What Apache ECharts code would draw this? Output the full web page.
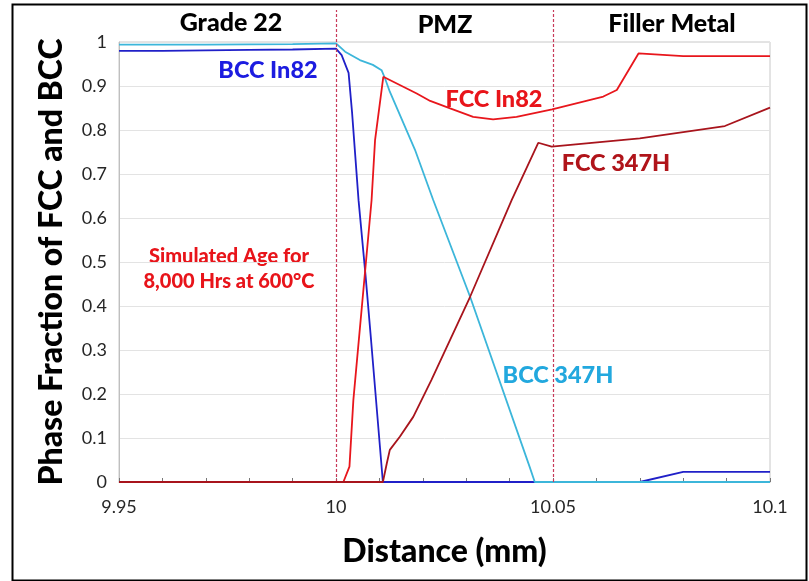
<!DOCTYPE html>
<html><head><meta charset="utf-8">
<script src="https://cdn.jsdelivr.net/npm/echarts@6/dist/echarts.min.js"></script>
<style>html,body{margin:0;padding:0;background:#fff}#c{width:809px;height:581px}</style>
</head><body><div id="c"></div>
<script>
// ---- data ----
const bccIn82X = [9.95, 9.96, 9.97, 9.98, 9.99, 10.0, 10.0013, 10.0029, 10.0037, 10.0052, 10.0068, 10.0081, 10.0108, 10.07, 10.08, 10.09, 10.1];
const bccIn82Y = [0.980, 0.980, 0.981, 0.982, 0.983, 0.985, 0.970, 0.930, 0.840, 0.640, 0.470, 0.320, 0, 0, 0.023, 0.023, 0.023];

const bcc347X = [9.95, 9.97, 9.99, 10.0, 10.0021, 10.0055, 10.0085, 10.0105, 10.0113, 10.0124, 10.0182, 10.0224, 10.0309, 10.0446, 10.0458, 10.1];
const bcc347Y = [0.994, 0.994, 0.995, 0.997, 0.978, 0.959, 0.948, 0.936, 0.917, 0.887, 0.755, 0.641, 0.421, 0.035, 0, 0];

const fccIn82X = [9.95, 10.0, 10.0017, 10.0031, 10.0040, 10.0082, 10.0090, 10.0109, 10.0186, 10.0217, 10.0263, 10.0316, 10.0362, 10.0416, 10.0498, 10.0616, 10.0647, 10.0697, 10.0800, 10.1];
const fccIn82Y = [0, 0, 0, 0.035, 0.186, 0.641, 0.777, 0.921, 0.883, 0.866, 0.849, 0.830, 0.824, 0.830, 0.847, 0.876, 0.891, 0.974, 0.968, 0.968];

const fcc347X = [9.95, 10.0108, 10.0117, 10.0124, 10.0147, 10.0178, 10.0220, 10.0309, 10.0405, 10.0466, 10.0497, 10.0700, 10.0896, 10.1];
const fcc347Y = [0, 0, 0.042, 0.073, 0.103, 0.148, 0.232, 0.421, 0.641, 0.771, 0.762, 0.781, 0.809, 0.851];

const boundaryX = [10.0, 10.05];
const xTicks = {min: 9.95, max: 10.1, step: 0.05};
const yTicks = {min: 0, max: 1, step: 0.1};

// ---- chart ----
const zip = (xs, ys) => xs.map((x, i) => [x, ys[i]]);
const FONT = 'Lato';
const chart = echarts.init(document.getElementById('c'), null, {renderer: 'canvas'});
function mkLine(name, xs, ys, color, z) {
  return {name, type: 'line', data: zip(xs, ys), showSymbol: false, symbol: 'none',
    lineStyle: {color, width: 1.8}, itemStyle: {color}, z, clip: false, animation: false};
}
const txt = (x, y, text, size, fill) => ({type: 'text', x, y,
  style: {text, font: '900 ' + size + 'px Lato', fill, align: 'center', verticalAlign: 'middle'}});
chart.setOption({
  animation: false,
  backgroundColor: '#fff',
  grid: [
    {left: 119, right: 39, top: 42, bottom: 99, show: true, borderColor: '#c8c8c8', borderWidth: 1},
    {left: 119, right: 39, top: 10, bottom: 99, show: false}
  ],
  xAxis: [
    {type: 'value', gridIndex: 0, min: xTicks.min, max: xTicks.max, interval: xTicks.step,
      axisLine: {show: true, lineStyle: {color: '#bfbfbf'}},
      axisTick: {show: true, inside: true, length: 4, lineStyle: {color: '#777'}},
      minorTick: {show: true, splitNumber: 5, length: 4, lineStyle: {color: '#777'}},
      splitLine: {show: false},
      axisLabel: {fontFamily: FONT, fontSize: 18, color: '#262626', margin: 16,
        formatter: v => String(+v.toFixed(2))},
      name: 'Distance (mm)', nameLocation: 'middle', nameGap: 54, nameMoveOverlap: false,
      nameTextStyle: {fontFamily: FONT, fontWeight: 900, fontSize: 32, color: '#000'}},
    {type: 'value', gridIndex: 1, min: xTicks.min, max: xTicks.max, show: false}
  ],
  yAxis: [
    {type: 'value', gridIndex: 0, min: yTicks.min, max: yTicks.max, interval: yTicks.step,
      axisLine: {show: true, lineStyle: {color: '#bfbfbf'}},
      axisTick: {show: false},
      splitLine: {show: true, lineStyle: {color: '#e3e3e3', width: 1}},
      axisLabel: {fontFamily: FONT, fontSize: 18, color: '#262626', margin: 12,
        formatter: v => String(+v.toFixed(1))},
      name: 'Phase Fraction of FCC and BCC', nameLocation: 'middle', nameGap: 51, nameMoveOverlap: false,
      nameTextStyle: {fontFamily: FONT, fontWeight: 900, fontSize: 32, color: '#000'}},
    {type: 'value', gridIndex: 1, min: 0, max: 1, show: false}
  ],
  series: [
    mkLine('BCC In82', bccIn82X, bccIn82Y, '#2020c8', 3),
    mkLine('BCC 347H', bcc347X, bcc347Y, '#3cb6da', 4),
    mkLine('FCC In82', fccIn82X, fccIn82Y, '#e8161c', 5),
    mkLine('FCC 347H', fcc347X, fcc347Y, '#a8141c', 6),
    {type: 'line', xAxisIndex: 1, yAxisIndex: 1, data: [], silent: true, z: 2,
      markLine: {silent: true, symbol: 'none', animation: false, label: {show: false},
        lineStyle: {color: '#c83a5a', type: [3, 2], width: 1.2},
        data: boundaryX.map(x => ({xAxis: x}))}}
  ],
  graphic: [
    {type: 'rect', left: 10, top: 2, shape: {width: 794, height: 576}, style: {fill: 'none', stroke: '#000', lineWidth: 2}, silent: true},
    txt(231, 23, 'Grade 22', 25, '#000'),
    txt(445, 25, 'PMZ', 25, '#000'),
    txt(672, 24, 'Filler Metal', 25, '#000'),
    txt(268, 70, 'BCC In82', 23.5, '#1c1ce0'),
    txt(494, 99, 'FCC In82', 23.5, '#e8141a'),
    txt(616, 163, 'FCC 347H', 23.5, '#b0141a'),
    txt(558, 375, 'BCC 347H', 23.5, '#22a8de'),
    txt(229, 257, 'Simulated Age for', 20, '#e8141a'),
    txt(229, 282, '8,000 Hrs at 600°C', 20, '#e8141a')
  ]
});
</script></body></html>
